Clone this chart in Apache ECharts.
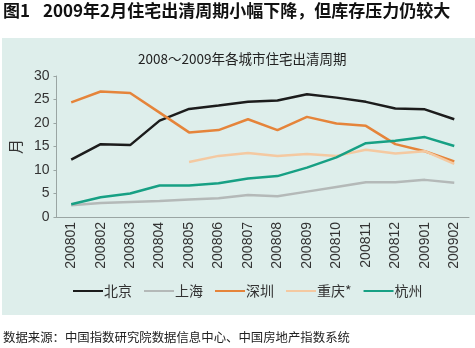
<!DOCTYPE html>
<html><head><meta charset="utf-8">
<script src="https://cdn.jsdelivr.net/npm/echarts@6/dist/echarts.min.js"></script>
<style>html,body{margin:0;padding:0;background:#fff}#c{width:475px;height:348px}</style>
</head><body><div id="c"></div>
<script>
const categories = ['200801','200802','200803','200804','200805','200806','200807','200808','200809','200810','200811','200812','200901','200902'];
const beijing   = [12.2,15.5,15.3,20.5,23.0,23.7,24.5,24.8,26.1,25.4,24.5,23.1,22.9,20.8];
const shanghai  = [2.5,3.0,3.2,3.4,3.7,4.0,4.7,4.4,5.4,6.4,7.4,7.4,7.9,7.3];
const shenzhen  = [24.4,26.7,26.4,22.2,18.0,18.5,20.8,18.5,21.3,19.9,19.4,15.5,14.0,11.8];
const chongqing = [null,null,null,null,11.7,13.0,13.6,13.0,13.4,13.0,14.3,13.5,14.0,11.3];
const hangzhou  = [2.7,4.2,5.0,6.7,6.7,7.2,8.2,8.7,10.5,12.7,15.7,16.2,17.0,15.1];
const seriesNames = ['北京','上海','深圳','重庆*','杭州'];
const yTicks = [0,5,10,15,20,25,30];

const F = '"Noto Sans CJK SC", "Noto Sans", sans-serif';
const FD = '"Liberation Sans", Arial, sans-serif';
const colors = ['#1c1c1c','#b4b9b8','#e5843a','#f4c9a1','#17a084'];
const datas = [beijing, shanghai, shenzhen, chongqing, hangzhou];
const chart = echarts.init(document.getElementById('c'));
chart.setOption({
  animation: false,
  backgroundColor: '#ffffff',
  graphic: [
    {type:'rect', shape:{x:2,y:38,width:473,height:277}, style:{fill:'#deeeeb'}, z:-10},
    {type:'text', left:3, top:2, style:{text:'图1', font:'bold 17px '+F, fill:'#111'}},
    {type:'text', left:43, top:2, style:{text:'2009年2月住宅出清周期小幅下降，但库存压力仍较大', font:'bold 17px '+F, fill:'#111'}},
    {type:'text', left:138, top:52, style:{text:'2008～2009年各城市住宅出清周期', font:'13.5px '+F, fill:'#222'}},
    {type:'text', left:3, top:331, style:{text:'数据来源：中国指数研究院数据信息中心、中国房地产指数系统', font:'12.4px '+F, fill:'#222'}}
  ],
  grid: {left:46, right:6, top:76, bottom:131},
  xAxis: {
    type:'category', data: categories, boundaryGap:true,
    axisLine:{lineStyle:{color:'#9aa5a3'}},
    axisTick:{inside:true, length:4, lineStyle:{color:'#9aa5a3'}},
    axisLabel:{rotate:90, fontSize:14, color:'#333', fontFamily:FD, margin:5, interval:0}
  },
  yAxis: {
    type:'value', min:0, max:30, interval:5,
    name:'月', nameLocation:'middle', nameGap:30, nameRotate:90,
    nameTextStyle:{fontSize:15, color:'#333', fontFamily:F},
    axisLine:{show:true, lineStyle:{color:'#9aa5a3'}},
    axisTick:{show:true, length:3, lineStyle:{color:'#9aa5a3'}},
    splitLine:{show:false},
    axisLabel:{fontSize:14, color:'#333', fontFamily:FD, margin:7, formatter: v => yTicks.includes(v) ? String(v) : ''}
  },
  legend: {
    bottom: 45, left: 68, itemGap: 12, itemWidth: 30, itemHeight: 2,
    icon: 'rect',
    textStyle:{fontSize:14, color:'#333', fontFamily:F, padding:[0,0,0,-4]},
    data: seriesNames
  },
  series: seriesNames.map((n,i)=>({
    name:n, type:'line', data: datas[i], color: colors[i],
    showSymbol:false, symbol:'none', connectNulls:false,
    lineStyle:{width:2.5, color: colors[i]}
  }))
});
</script></body></html>
